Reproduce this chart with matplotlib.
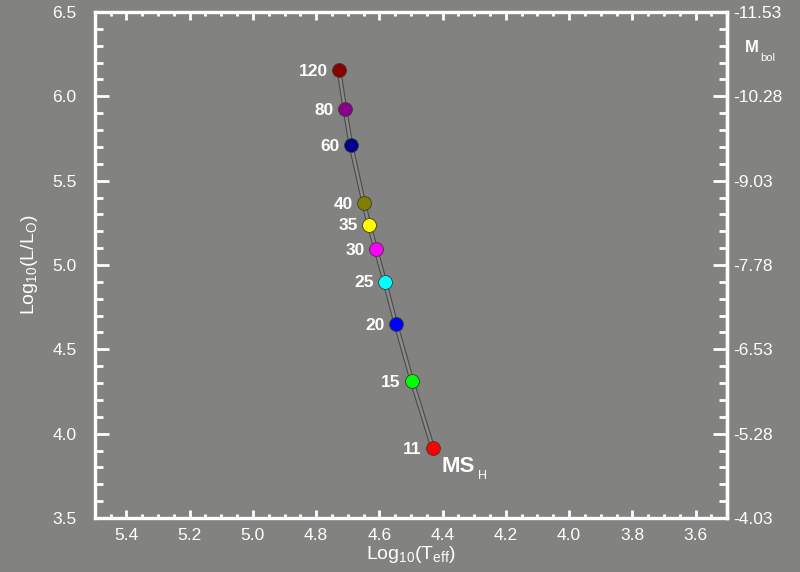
import numpy as np
import matplotlib
matplotlib.use("Agg")
import matplotlib.pyplot as plt
from matplotlib.ticker import MultipleLocator, FixedLocator

plt.rcParams["font.family"] = ["Liberation Sans", "DejaVu Sans"]
plt.rcParams["mathtext.fontset"] = "custom"
plt.rcParams["mathtext.rm"] = "Liberation Sans"
plt.rcParams["mathtext.it"] = "Liberation Sans"
plt.rcParams["mathtext.bf"] = "Liberation Sans:bold"

# ── Main-sequence positions (hydrogen burning) by initial mass ────────────────
masses = ["120", "80", "60", "40", "35", "30", "25", "20", "15", "11"]
log_teff = [4.728, 4.709, 4.690, 4.649, 4.633, 4.611, 4.583, 4.548, 4.497, 4.431]
log_lum = [6.155, 5.924, 5.710, 5.365, 5.240, 5.092, 4.902, 4.652, 4.313, 3.915]
colors = ["#8b0000", "#8b008b", "#00008b", "#808000", "#ffff00",
          "#ff00ff", "#00ffff", "#0000ff", "#00ff00", "#ff0000"]

x_ticks = [5.4, 5.2, 5.0, 4.8, 4.6, 4.4, 4.2, 4.0, 3.8, 3.6]
y_ticks = [3.5, 4.0, 4.5, 5.0, 5.5, 6.0, 6.5]
mbol_ticks = [-11.53, -10.28, -9.03, -7.78, -6.53, -5.28, -4.03]
MBOL_ZERO = 4.72

BG = "#828280"
WHITE = "white"

fig = plt.figure(figsize=(8.0, 5.72), dpi=100, facecolor=BG)
ax = fig.add_axes([0.1185, 0.0944, 0.7905, 0.8846])
ax.set_facecolor(BG)

# track: dark outline with a grey core
ax.plot(log_teff, log_lum, color="#4a4a4a", lw=3.4, zorder=2,
        solid_capstyle="butt")
ax.plot(log_teff, log_lum, color="#8c8c8a", lw=1.8, zorder=3,
        solid_capstyle="butt")

for xt, yl, c, m in zip(log_teff, log_lum, colors, masses):
    ax.plot(xt, yl, "o", ms=10, mfc=c, mec="#3a3a3a", mew=0.6, zorder=4)
    ax.annotate(m, (xt, yl), xytext=(-8, -1), textcoords="offset points",
                ha="right", va="center", color=WHITE, fontsize=12.5,
                fontweight="bold", zorder=5)

# MS_H tag next to the lowest-mass point
ax.annotate("MS", (log_teff[-1], log_lum[-1]), xytext=(6, -17),
            textcoords="offset points", ha="left", va="baseline",
            color=WHITE, fontsize=16, fontweight="bold")
ax.annotate("H", (log_teff[-1], log_lum[-1]), xytext=(32.5, -22.5),
            textcoords="offset points", ha="left", va="baseline",
            color=WHITE, fontsize=9)

ax.set_xlim(5.5, 3.5)
ax.set_ylim(3.5, 6.5)
ax.set_xticks(x_ticks)
ax.set_yticks(y_ticks)
ax.xaxis.set_minor_locator(MultipleLocator(0.05))
ax.yaxis.set_minor_locator(MultipleLocator(0.1))
ax.set_xticklabels([f"{v:.1f}" for v in x_ticks])
ax.set_yticklabels([f"{v:.1f}" for v in y_ticks])

for s in ax.spines.values():
    s.set_color(WHITE)
    s.set_linewidth(2.4)

ax.tick_params(which="both", direction="in", color=WHITE, width=2.0,
               top=True, right=False, labelcolor=WHITE, labelsize=12.5)
ax.tick_params(axis="x", which="major", length=5.5, pad=7)
ax.tick_params(axis="x", which="minor", length=3.2)
ax.tick_params(axis="y", which="major", length=10, pad=13)
ax.tick_params(axis="y", which="minor", length=5.5)

ax.set_xlabel(r"$\mathregular{Log_{10}(T_{eff})}$", color=WHITE,
              fontsize=14, labelpad=1)
ax.set_ylabel(r"$\mathregular{Log_{10}(L/L_{O})}$", color=WHITE,
              fontsize=14, labelpad=9)

# bolometric magnitude on the right
sec = ax.secondary_yaxis("right",
                         functions=(lambda l: MBOL_ZERO - 2.5 * l,
                                    lambda m: (MBOL_ZERO - m) / 2.5))
sec.set_yticks(mbol_ticks)
sec.set_yticklabels([f"{v:.2f}" for v in mbol_ticks])
sec.yaxis.set_minor_locator(
    FixedLocator(MBOL_ZERO - 2.5 * np.arange(3.5, 6.55, 0.1)))
sec.spines["right"].set_color(WHITE)
sec.spines["right"].set_linewidth(2.4)
sec.tick_params(which="both", direction="in", color=WHITE, width=2.0,
                labelcolor=WHITE, labelsize=12.5, pad=4)
sec.tick_params(which="major", length=10)
sec.tick_params(which="minor", length=5.5)

ax.text(1.028, 0.921, "M", transform=ax.transAxes, color=WHITE,
        fontsize=12, fontweight="bold", ha="left", va="baseline")
ax.text(1.053, 0.903, "bol", transform=ax.transAxes, color=WHITE,
        fontsize=8, ha="left", va="baseline")

fig.savefig("out.png", dpi=100, facecolor=BG)
